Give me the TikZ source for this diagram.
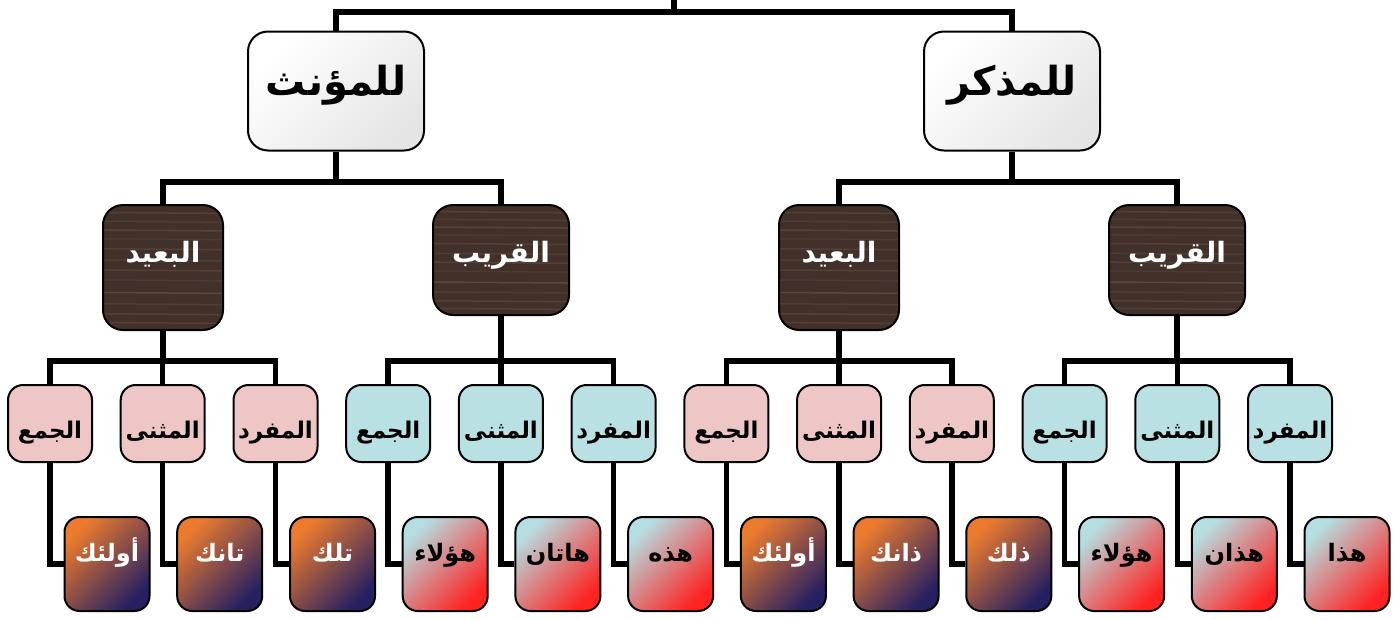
\documentclass[tikz,border=0pt]{standalone}
\usepackage{fontspec}
\newfontfamily\arabicfont[Script=Arabic]{DejaVu Sans}
\TeXXeTstate=1
\usetikzlibrary{calc,backgrounds}
\definecolor{wood}{HTML}{42302A}
\definecolor{woodlight}{HTML}{7A6452}
\definecolor{pinkbox}{HTML}{EEC6C6}
\definecolor{tealbox}{HTML}{B9E0E3}
\definecolor{orangeg}{HTML}{EC7B2E}
\definecolor{navyg}{HTML}{272060}
\definecolor{purpleg}{HTML}{7A4A6A}
\definecolor{redg}{HTML}{FF2222}
\definecolor{tealg}{HTML}{B5DEE2}
\newcommand{\ar}[1]{\arabicfont\bfseries\beginR #1\endR}
\tikzset{
  conn/.style={line width=5.5pt, draw=black},
  boxbase/.style={draw=black, line width=2pt, align=center, inner sep=0pt},
  lvlone/.style={boxbase, rounded corners=20pt, minimum width=176pt, minimum height=119pt,
     left color=white, right color=black!10, shading angle=45, font=\fontsize{40}{44}\selectfont,
     text height=8pt, text depth=0pt},
  woodbox/.style={boxbase, rounded corners=20pt, fill=wood, text=white, font=\fontsize{28}{32}\selectfont,
     path picture={
       \foreach \yy/\oo in {0.06/0.35,0.13/0.25,0.2/0.4,0.27/0.2,0.35/0.3,0.44/0.25,0.52/0.35,0.6/0.2,0.7/0.45,0.79/0.25,0.87/0.35,0.94/0.3}{
         \draw[woodlight, line width=1.5pt, opacity=\oo]
           ($(path picture bounding box.north west)!\yy!(path picture bounding box.south west)$)
           -- ++(200pt,-1.5pt);
       }
     }},
  farbox/.style={woodbox, minimum width=120pt, minimum height=125pt, text height=0pt, text depth=11pt},
  nearbox/.style={woodbox, minimum width=136pt, minimum height=110pt, text height=5pt, text depth=0pt},
  lvlthree/.style={boxbase, rounded corners=15pt, minimum width=84pt, minimum height=77pt,
     font=\fontsize{23}{26}\selectfont, text height=30pt, text depth=0pt},
  pinkb/.style={lvlthree, fill=pinkbox},
  tealb/.style={lvlthree, fill=tealbox},
  lvlfour/.style={boxbase, rounded corners=15pt, minimum width=85pt, minimum height=94pt,
     font=\fontsize{24}{28}\selectfont, text height=0pt, text depth=6pt},
  darkg/.style={lvlfour, left color=orangeg, middle color=purpleg, right color=navyg, shading angle=45, text=white},
  redgr/.style={lvlfour, left color=tealg, middle color=redg!45!tealg, right color=redg, shading angle=45, text=black},
}
\begin{document}
\begin{tikzpicture}[x=1pt, y=-1pt]
\useasboundingbox (0,0) rectangle (1400,619);
% bus levels
\coordinate (top) at (674,0);
\coordinate (busA) at (0,12);
\coordinate (busB) at (0,182);
\coordinate (busC) at (0,361);

% level 1
\node[lvlone] (fem) at (336,91) {\ar{للمؤنث}};
\node[lvlone] (mas) at (1012,91) {\ar{للمذكر}};

% level 2
\node[farbox]  (ffar)  at (163,267.5) {\ar{البعيد}};
\node[nearbox] (fnear) at (501,260) {\ar{القريب}};
\node[farbox]  (mfar)  at (839,267.5) {\ar{البعيد}};
\node[nearbox] (mnear) at (1177,260) {\ar{القريب}};

% level 3
\node[pinkb] (c0)  at (50,423.5)   {\ar{الجمع}};
\node[pinkb] (c1)  at (162.7,423.5) {\ar{المثنى}};
\node[pinkb] (c2)  at (275.5,423.5) {\ar{المفرد}};
\node[tealb] (c3)  at (388.2,423.5) {\ar{الجمع}};
\node[tealb] (c4)  at (500.9,423.5) {\ar{المثنى}};
\node[tealb] (c5)  at (613.6,423.5) {\ar{المفرد}};
\node[pinkb] (c6)  at (726.4,423.5) {\ar{الجمع}};
\node[pinkb] (c7)  at (839.1,423.5) {\ar{المثنى}};
\node[pinkb] (c8)  at (951.8,423.5) {\ar{المفرد}};
\node[tealb] (c9)  at (1064.6,423.5) {\ar{الجمع}};
\node[tealb] (c10) at (1177.3,423.5) {\ar{المثنى}};
\node[tealb] (c11) at (1290,423.5) {\ar{المفرد}};

% level 4
\node[darkg] (d0)  at (107,564)    {\ar{أولئك}};
\node[darkg] (d1)  at (219.7,564)  {\ar{تانك}};
\node[darkg] (d2)  at (332.5,564)  {\ar{تلك}};
\node[redgr] (d3)  at (445.2,564)  {\ar{هؤلاء}};
\node[redgr] (d4)  at (557.9,564)  {\ar{هاتان}};
\node[redgr] (d5)  at (670.6,564)  {\ar{هذه}};
\node[darkg] (d6)  at (783.4,564)  {\ar{أولئك}};
\node[darkg] (d7)  at (896.1,564)  {\ar{ذانك}};
\node[darkg] (d8)  at (1008.8,564) {\ar{ذلك}};
\node[redgr] (d9)  at (1121.6,564) {\ar{هؤلاء}};
\node[redgr] (d10) at (1234.3,564) {\ar{هذان}};
\node[redgr] (d11) at (1347,564)   {\ar{هذا}};

% connectors (behind nodes)
\begin{scope}[on background layer]
  \draw[conn] (top) -- (top |- busA) -| (fem.north);
  \draw[conn] (top) -- (top |- busA) -| (mas.north);
  \foreach \p/\c in {fem/ffar, fem/fnear, mas/mfar, mas/mnear}{
    \draw[conn] (\p.south) -- (\p.south |- busB) -| (\c.north);
  }
  \foreach \p/\c in {ffar/c0, ffar/c1, ffar/c2, fnear/c3, fnear/c4, fnear/c5,
                     mfar/c6, mfar/c7, mfar/c8, mnear/c9, mnear/c10, mnear/c11}{
    \draw[conn] (\p.south) -- (\p.south |- busC) -| (\c.north);
  }
  \foreach \i in {0,...,11}{
    \draw[conn] (c\i.south) |- (d\i.west);
  }
\end{scope}
\end{tikzpicture}
\end{document}
